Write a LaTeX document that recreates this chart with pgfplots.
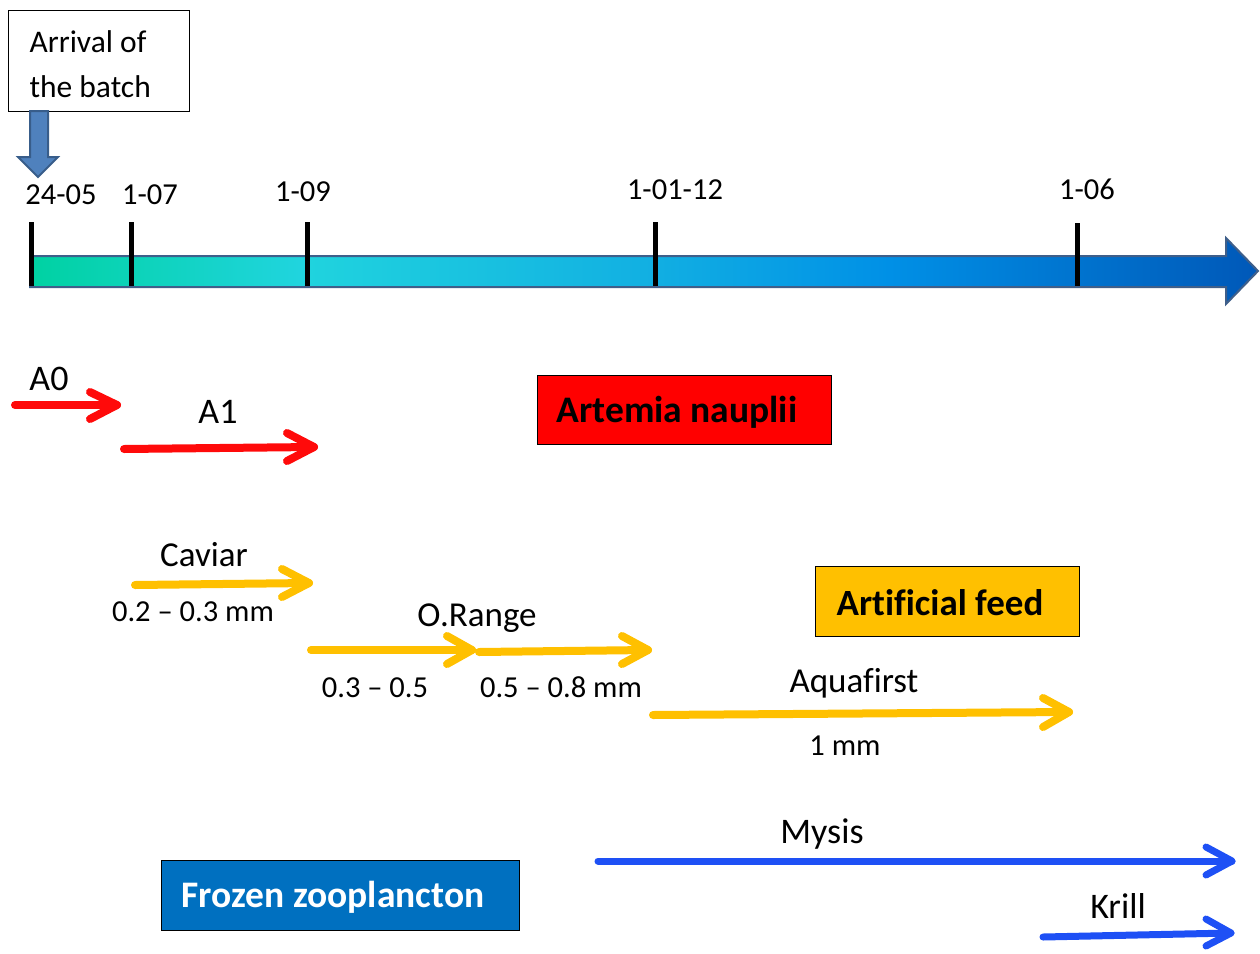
\documentclass[border=0pt]{standalone}
\usepackage{pgfplots}
\pgfplotsset{compat=1.18}
\usepackage{fontspec}
\setmainfont{Carlito}[Ligatures=CommonOff]
\definecolor{tlA}{HTML}{00D2A2}
\definecolor{tlB}{HTML}{20D4DE}
\definecolor{tlC}{HTML}{12B0E2}
\definecolor{tlD}{HTML}{0090E6}
\definecolor{tlE}{HTML}{0058B8}
\definecolor{tlborder}{HTML}{3F5F8A}
\definecolor{arrA}{HTML}{4F81BD}
\definecolor{arrB}{HTML}{385D8A}
\definecolor{myred}{HTML}{FF0A0A}
\definecolor{myyel}{HTML}{FFC000}
\definecolor{myblue}{HTML}{1E50F5}
\definecolor{boxblue}{HTML}{0070C0}
\pgfdeclarehorizontalshading{tlshade}{100bp}{color(0bp)=(tlA); color(25bp)=(tlA); color(36bp)=(tlB); color(50bp)=(tlC); color(60bp)=(tlD); color(75bp)=(tlE); color(100bp)=(tlE)}
\newcommand\fs[1]{\fontsize{#1}{#1}\selectfont}
\begin{document}
\begin{tikzpicture}
\begin{axis}[
  scale only axis, width=1260pt, height=953pt,
  xmin=0, xmax=1260, ymin=0, ymax=953, y dir=reverse,
  hide axis, clip=false,
  arr/.style={line width=8pt, line cap=round, line join=round, mark=none},
]
% invisible frame
\addplot[draw=none, mark=none] coordinates {(0,0) (1260,953)};
% Arrival box
\addplot[draw=black, line width=1pt, fill=white, mark=none] coordinates {(8,10) (189,10) (189,111) (8,111)} --cycle;
\node[anchor=base west] at (axis cs:26,52) {\fs{31.5}Arrival of};
\node[anchor=base west] at (axis cs:26,97) {\fs{31.5}the batch};
% down arrow
\addplot[fill=arrA, draw=arrB, line width=2pt, mark=none] coordinates {(30,111) (48,111) (48,157) (58,157) (38,177) (18,157) (30,157)} --cycle;
% timeline
\addplot[shading=tlshade, draw=tlborder, line width=2pt, mark=none] coordinates {(30,256) (1226,256) (1226,238) (1258,271) (1226,304) (1226,287) (30,287)} --cycle;
% ticks
\addplot[black, line width=5pt, mark=none] coordinates {(31,222) (31,286)};
\addplot[black, line width=5pt, mark=none] coordinates {(131,222) (131,286)};
\addplot[black, line width=5pt, mark=none] coordinates {(307,222) (307,286)};
\addplot[black, line width=5pt, mark=none] coordinates {(655,222) (655,286)};
\addplot[black, line width=5pt, mark=none] coordinates {(1077,223) (1077,286)};
% date labels
\node[anchor=base] at (axis cs:61,204) {\fs{30.5}24-05};
\node[anchor=base] at (axis cs:150,204) {\fs{30.5}1-07};
\node[anchor=base] at (axis cs:303,201) {\fs{30.5}1-09};
\node[anchor=base] at (axis cs:675,199) {\fs{30.5}1-01-12};
\node[anchor=base] at (axis cs:1087,199) {\fs{30.5}1-06};
% red arrows
\addplot[arr, myred] coordinates {(15,405) (117,405)};
\addplot[arr, myred] coordinates {(90,392) (117,405) (90,419)};
\node[anchor=base] at (axis cs:49,390) {\fs{36}A0};
\addplot[arr, myred] coordinates {(124,449) (314,447)};
\addplot[arr, myred] coordinates {(287,433) (314,447) (287,461)};
\node[anchor=base] at (axis cs:218,423) {\fs{36}A1};
% Artemia box
\addplot[draw=black, line width=1pt, fill=red, mark=none] coordinates {(537,375) (831,375) (831,444) (537,444)} --cycle;
\node at (axis cs:677,412) {\fs{37.5}\bfseries Artemia nauplii};
% yellow arrows
\addplot[arr, myyel] coordinates {(135,585) (309,583)};
\addplot[arr, myyel] coordinates {(282,569) (309,583) (282,597)};
\node[anchor=base] at (axis cs:204,566) {\fs{35}Caviar};
\node[anchor=base] at (axis cs:193,621) {\fs{30.5}0.2 – 0.3 mm};
\addplot[arr, myyel] coordinates {(311,650) (472,650)};
\addplot[arr, myyel] coordinates {(447,636) (472,650) (447,664)};
\addplot[arr, myyel] coordinates {(479,652) (648,650)};
\addplot[arr, myyel] coordinates {(622,636) (648,650) (622,664)};
\node[anchor=base] at (axis cs:477,626) {\fs{35}O.Range};
\node[anchor=base] at (axis cs:375,697) {\fs{30.5}0.3 – 0.5};
\node[anchor=base] at (axis cs:561,697) {\fs{30.5}0.5 – 0.8 mm};
\addplot[arr, myyel] coordinates {(653,715) (1069,712)};
\addplot[arr, myyel] coordinates {(1043,698) (1069,712) (1043,727)};
\node[anchor=base] at (axis cs:854,692) {\fs{35}Aquafirst};
\node[anchor=base] at (axis cs:845,755) {\fs{30.5}1 mm};
% Artificial feed box
\addplot[draw=black, line width=1pt, fill=myyel, mark=none] coordinates {(815,566) (1079,566) (1079,636) (815,636)} --cycle;
\node at (axis cs:940,603) {\fs{37}\bfseries Artificial feed};
% blue arrows
\addplot[arr, myblue, line width=7pt] coordinates {(598,861) (1232,861)};
\addplot[arr, myblue, line width=7pt] coordinates {(1206,847) (1232,861) (1206,875)};
\node[anchor=base] at (axis cs:822,843) {\fs{36}Mysis};
\addplot[arr, myblue, line width=7pt] coordinates {(1043,937) (1231,933)};
\addplot[arr, myblue, line width=7pt] coordinates {(1206,919) (1231,933) (1206,946)};
\node[anchor=base] at (axis cs:1118,918) {\fs{36}Krill};
% Frozen zooplancton box
\addplot[draw=black, line width=1pt, fill=boxblue, mark=none] coordinates {(161,860) (519,860) (519,930) (161,930)} --cycle;
\node[text=white] at (axis cs:333,897) {\fs{37.5}\bfseries Frozen zooplancton};
\end{axis}
\end{tikzpicture}
\end{document}
